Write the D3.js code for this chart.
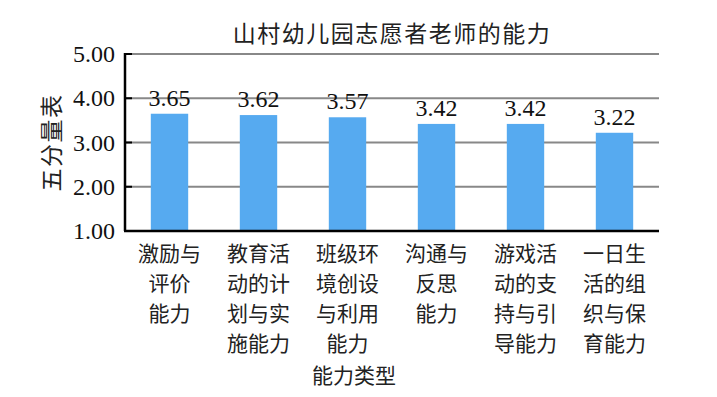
<!DOCTYPE html>
<meta charset="utf-8">
<head>
<style>
  body { margin: 0; background: #fff; }
  text { font-family: "Liberation Serif", "Noto Sans CJK SC", serif; fill: #111; }
  .cjk { font-family: "Noto Sans CJK SC", sans-serif; fill: #222; }
</style>
<script src="https://d3js.org/d3.v7.min.js"></script>
</head>
<body>
<div id="chart"></div>
<script>
// data
var categories = ["激励与评价能力", "教育活动的计划与实施能力", "班级环境创设与利用能力",
                  "沟通与反思能力", "游戏活动的支持与引导能力", "一日生活的组织与保育能力"];
var catLines = [
  ["激励与", "评价", "能力"],
  ["教育活", "动的计", "划与实", "施能力"],
  ["班级环", "境创设", "与利用", "能力"],
  ["沟通与", "反思", "能力"],
  ["游戏活", "动的支", "持与引", "导能力"],
  ["一日生", "活的组", "织与保", "育能力"]
];
var values = [3.65, 3.62, 3.57, 3.42, 3.42, 3.22];
var yTicks = [1, 2, 3, 4, 5];

var width = 717, height = 397;
var margin = { top: 54, right: 58, bottom: 166, left: 125 };

var svg = d3.select("#chart").append("svg")
    .attr("width", width)
    .attr("height", height);

var x = d3.scaleBand()
    .domain(categories)
    .range([margin.left, width - margin.right])
    .paddingInner(0.58)
    .paddingOuter(0.29);

var y = d3.scaleLinear()
    .domain([1, 5])
    .range([height - margin.bottom, margin.top]);

// gridlines
svg.append("g").selectAll("line")
    .data(yTicks.filter(function (d) { return d > 1; }))
    .enter().append("line")
    .attr("x1", margin.left)
    .attr("x2", width - margin.right)
    .attr("y1", function (d) { return y(d); })
    .attr("y2", function (d) { return y(d); })
    .attr("stroke", "#888")
    .attr("stroke-width", 2);

// inner ticks
svg.append("g").selectAll("line")
    .data(yTicks)
    .enter().append("line")
    .attr("x1", margin.left)
    .attr("x2", margin.left + 7)
    .attr("y1", function (d) { return y(d); })
    .attr("y2", function (d) { return y(d); })
    .attr("stroke", "#000")
    .attr("stroke-width", 2);

// bars
svg.append("g").selectAll("rect")
    .data(values)
    .enter().append("rect")
    .attr("x", function (d, i) { return x(categories[i]); })
    .attr("width", x.bandwidth())
    .attr("y", function (d) { return y(d); })
    .attr("height", function (d) { return y(1) - y(d); })
    .attr("fill", "#56aaf0");

// value labels
svg.append("g").selectAll("text")
    .data(values)
    .enter().append("text")
    .attr("x", function (d, i) { return x(categories[i]) + x.bandwidth() / 2; })
    .attr("y", function (d) { return y(d) - 8; })
    .attr("text-anchor", "middle")
    .attr("font-size", 24)
    .text(function (d) { return d3.format(".2f")(d); });

// axes lines
svg.append("line")
    .attr("x1", margin.left).attr("x2", margin.left)
    .attr("y1", y(5) - 1).attr("y2", y(1))
    .attr("stroke", "#000").attr("stroke-width", 2.5);
svg.append("line")
    .attr("x1", margin.left - 1).attr("x2", width - margin.right)
    .attr("y1", y(1)).attr("y2", y(1))
    .attr("stroke", "#000").attr("stroke-width", 2.5);

// y tick labels
svg.append("g").selectAll("text")
    .data(yTicks)
    .enter().append("text")
    .attr("x", margin.left - 10)
    .attr("y", function (d) { return y(d); })
    .attr("dy", "0.34em")
    .attr("text-anchor", "end")
    .attr("font-size", 24)
    .text(function (d) { return d3.format(".2f")(d); });

// category labels
var cat = svg.append("g").selectAll("g")
    .data(catLines)
    .enter().append("g")
    .attr("transform", function (d, i) {
        return "translate(" + (x(categories[i]) + x.bandwidth() / 2) + "," + (y(1) + 22) + ")";
    });
cat.selectAll("text")
    .data(function (d) { return d; })
    .enter().append("text")
    .attr("class", "cjk")
    .attr("y", function (d, j) { return j * 30; })
    .attr("dy", "0.36em")
    .attr("text-anchor", "middle")
    .attr("font-size", 21)
    .text(function (d) { return d; });

// title
svg.append("text")
    .attr("class", "cjk")
    .attr("x", (margin.left + width - margin.right) / 2)
    .attr("y", 34)
    .attr("dy", "0.36em")
    .attr("text-anchor", "middle")
    .attr("font-size", 23)
    .attr("letter-spacing", 1.5)
    .text("山村幼儿园志愿者老师的能力");

// x axis title
svg.append("text")
    .attr("class", "cjk")
    .attr("x", (margin.left + width - margin.right) / 2 - 38)
    .attr("y", 375)
    .attr("dy", "0.36em")
    .attr("text-anchor", "middle")
    .attr("font-size", 21)
    .text("能力类型");

// y axis title
svg.append("text")
    .attr("class", "cjk")
    .attr("transform", "translate(52," + ((y(1) + y(5)) / 2) + ") rotate(-90)")
    .attr("dy", "0.36em")
    .attr("text-anchor", "middle")
    .attr("font-size", 23)
    .attr("letter-spacing", 1.5)
    .text("五分量表");
</script>
</body>
